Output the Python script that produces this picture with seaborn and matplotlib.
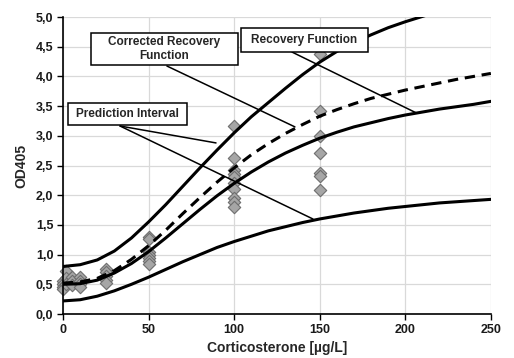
import matplotlib
matplotlib.use("Agg")
import matplotlib.pyplot as plt
from matplotlib.patches import Rectangle
from matplotlib.ticker import FuncFormatter
import seaborn as sns
import pandas as pd

# ---- measured points (x = concentration, y = OD405) ----
pts_x = [0, 0, 0, 0, 2, 2, 2, 5, 5, 5, 10, 10, 10, 10,
         25, 25, 25, 25, 25,
         50, 50, 50, 50, 50, 50, 50,
         100, 100, 100, 100, 100, 100, 100, 100, 100, 100,
         150, 150, 150, 150, 150, 150, 150]
pts_y = [0.55, 0.50, 0.45, 0.42, 0.72, 0.60, 0.50, 0.62, 0.55, 0.49, 0.62, 0.55, 0.50, 0.46,
         0.76, 0.70, 0.64, 0.58, 0.52,
         1.30, 1.27, 1.05, 1.00, 0.95, 0.90, 0.85,
         3.17, 2.62, 2.42, 2.35, 2.30, 2.20, 2.10, 1.95, 1.88, 1.80,
         4.38, 3.42, 3.00, 2.71, 2.38, 2.33, 2.09]

# ---- curves ----
curve_x = [0, 10, 20, 30, 40, 50, 60, 70, 80, 90, 100, 110, 120, 130, 140,
           150, 160, 170, 180, 190, 200, 210, 220, 230, 240, 250]
recovery = [0.50, 0.51, 0.57, 0.69, 0.85, 1.05, 1.28, 1.52, 1.76, 1.99, 2.20, 2.39, 2.56,
            2.71, 2.84, 2.96, 3.06, 3.15, 3.22, 3.29, 3.35, 3.40, 3.45, 3.49, 3.53, 3.58]
corrected = [0.52, 0.54, 0.60, 0.73, 0.92, 1.15, 1.41, 1.69, 1.96, 2.22, 2.46, 2.68, 2.87,
             3.04, 3.19, 3.33, 3.44, 3.54, 3.63, 3.70, 3.77, 3.83, 3.89, 3.95, 4.00, 4.05]
upper_pi = [0.80, 0.83, 0.91, 1.06, 1.28, 1.55, 1.84, 2.15, 2.46, 2.76, 3.05, 3.32, 3.56,
            3.80, 4.03, 4.24, 4.42, 4.57, 4.70, 4.82, 4.92, 5.01, 5.10, 5.19, 5.27, 5.35]
lower_pi = [0.22, 0.24, 0.30, 0.39, 0.50, 0.62, 0.75, 0.88, 1.00, 1.12, 1.22, 1.31, 1.40,
            1.47, 1.54, 1.60, 1.65, 1.70, 1.74, 1.78, 1.81, 1.84, 1.87, 1.89, 1.91, 1.93]

x_ticks = [0, 50, 100, 150, 200, 250]
y_ticks = [0, 0.5, 1.0, 1.5, 2.0, 2.5, 3.0, 3.5, 4.0, 4.5, 5.0]

label_corrected = "Corrected Recovery\nFunction"
label_recovery = "Recovery Function"
label_pi = "Prediction Interval"
x_label = "Corticosterone [µg/L]"
y_label = "OD405"

sns.set_theme(style="white")
plt.rcParams['font.family'] = ['Liberation Sans', 'DejaVu Sans']

fig = plt.figure(figsize=(5.14, 3.58), dpi=100)
ax = fig.add_axes([0.1226, 0.1229, 0.8324, 0.8296])

pts = pd.DataFrame({"x": pts_x, "y": pts_y})
curves = pd.DataFrame({"x": curve_x, "recovery": recovery, "corrected": corrected,
                       "upper": upper_pi, "lower": lower_pi})

for col in ["upper", "lower", "recovery"]:
    sns.lineplot(data=curves, x="x", y=col, ax=ax, color="black", lw=2.2,
                 zorder=3, estimator=None)
sns.lineplot(data=curves, x="x", y="corrected", ax=ax, color="black", lw=2.2,
             zorder=3, estimator=None)
ax.lines[-1].set_linestyle((0, (3.4, 2.2)))

sns.scatterplot(data=pts, x="x", y="y", ax=ax, marker="D", s=40, color="#a6a6a6",
                edgecolor="#6e6e6e", linewidth=0.8, zorder=2, clip_on=False)

ax.set_xlim(0, 250)
ax.set_ylim(0, 5)
ax.set_xticks(x_ticks)
ax.set_yticks(y_ticks)
ax.yaxis.set_major_formatter(FuncFormatter(lambda v, p: f"{v:.1f}".replace(".", ",")))
ax.grid(True, color="#d9d9d9", lw=0.9, zorder=0)
ax.set_axisbelow(True)
for s in ["top", "right"]:
    ax.spines[s].set_visible(False)
for s in ["left", "bottom"]:
    ax.spines[s].set_color("black")
    ax.spines[s].set_linewidth(1.2)
ax.tick_params(axis="both", which="major", direction="out", length=4, width=1.0,
               color="black", labelsize=9, pad=3, bottom=True, left=True)
for lab in ax.get_xticklabels() + ax.get_yticklabels():
    lab.set_fontweight("bold")
    lab.set_color("#1a1a1a")
ax.set_xlabel(x_label, fontsize=10, fontweight="bold", labelpad=4)
ax.set_ylabel(y_label, fontsize=10, fontweight="bold", labelpad=5)

# annotation leader lines
lkw = dict(color="black", lw=1.1, zorder=4, clip_on=False)
ax.plot([60.7, 135.5], [4.175, 3.15], **lkw)
ax.plot([133.8, 206.8], [4.41, 3.38], **lkw)
ax.plot([33.3, 89.4], [3.165, 2.88], **lkw)
ax.plot([33.3, 146.0], [3.165, 1.60], **lkw)

# annotation boxes
def box(x0, x1, y0, y1, text):
    ax.add_patch(Rectangle((x0, y0), x1 - x0, y1 - y0, facecolor="white",
                           edgecolor="black", lw=1.1, zorder=5, clip_on=False))
    ax.text((x0 + x1) / 2, (y0 + y1) / 2, text, ha="center", va="center",
            fontsize=8.5, fontweight="bold", zorder=6, linespacing=1.2)

box(16.4, 102.2, 4.19, 4.73, label_corrected)
box(104.0, 178.0, 4.41, 4.81, label_recovery)
box(2.9, 72.4, 3.18, 3.55, label_pi)

fig.savefig("out.png", dpi=100)
